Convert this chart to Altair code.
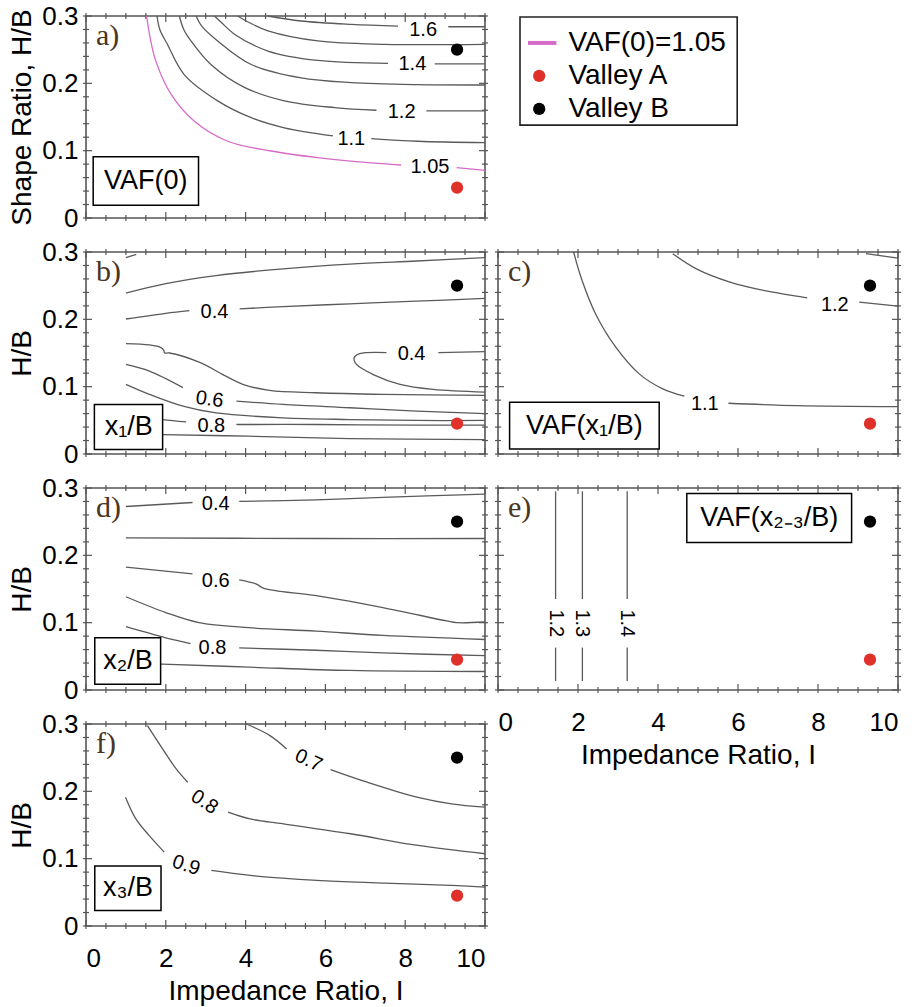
import altair as alt
import pandas as pd

FONT = "Liberation Sans"
SERIF = "Liberation Serif"
GRAY = "#5a5a5a"
PINK = "#d66cc8"
RED = "#e0302a"
FRAME = "#555555"

# ---------------- data ----------------
VALLEY_NAMES = ["Valley A", "Valley B"]
VALLEY_X = [9.3, 9.3]
VALLEY_Y = [0.045, 0.25]
VALLEY_COLORS = [RED, "#000000"]

# contour segments: (kind, x values, y values)
A_SEGS = [
    ("pink", [1.52, 1.6, 1.75, 2.13, 2.71, 3.55, 4.64, 5.81, 7.07, 7.9],
             [0.3, 0.27, 0.233, 0.184, 0.144, 0.114, 0.0995, 0.0896, 0.0822, 0.0787]),
    ("pink", [9.29, 10], [0.0748, 0.0708]),
    ("gray", [1.78, 1.85, 2.04, 2.46, 3.3, 4.14, 4.97, 6.19],
             [0.3, 0.28, 0.258, 0.213, 0.174, 0.149, 0.134, 0.122]),
    ("gray", [7.15, 8.32, 10], [0.118, 0.114, 0.112]),
    ("gray", [2.34, 2.45, 2.63, 3.13, 3.97, 4.97, 6.23, 7.28],
             [0.3, 0.28, 0.263, 0.228, 0.194, 0.174, 0.164, 0.160]),
    ("gray", [8.53, 10], [0.159, 0.159]),
    ("gray", [2.76, 2.9, 3.3, 4.14, 5.39, 6.65, 8.32, 10],
             [0.3, 0.285, 0.263, 0.228, 0.208, 0.201, 0.198, 0.1975]),
    ("gray", [3.22, 3.4, 3.72, 4.56, 5.81, 7.57],
             [0.3, 0.29, 0.273, 0.248, 0.234, 0.2297]),
    ("gray", [8.74, 10], [0.229, 0.229]),
    ("gray", [3.8, 4.1, 4.56, 5.81, 7.49, 10],
             [0.3, 0.29, 0.278, 0.263, 0.258, 0.258]),
    ("gray", [4.56, 5.39, 6.65, 7.82], [0.3, 0.2926, 0.2876, 0.285]),
    ("gray", [9.08, 10], [0.284, 0.284]),
]
A_LABELS = [("1.6", 8.45, 0.279, 0), ("1.4", 8.18, 0.229, 0), ("1.2", 7.91, 0.157, 0),
            ("1.1", 6.65, 0.118, 0), ("1.05", 8.62, 0.0755, 0)]

B_SEGS = [
    ("gray", [1.0, 1.26], [0.2915, 0.2965]),
    ("gray", [1.0, 2.0, 3.26, 4.94, 6.61, 8.28, 10],
             [0.239, 0.253, 0.265, 0.275, 0.282, 0.2866, 0.2915]),
    ("gray", [1.0, 2.0, 2.59], [0.2005, 0.209, 0.213]),
    ("gray", [3.85, 4.94, 6.61, 8.28, 10], [0.2154, 0.219, 0.223, 0.227, 0.231]),
    ("gray", [1.0, 1.59, 1.88, 1.95, 1.97, 2.09, 2.85, 3.43, 3.93, 4.6, 5.77, 7.45, 10],
             [0.164, 0.162, 0.158, 0.154, 0.150, 0.150, 0.136, 0.118, 0.1035, 0.0945, 0.091, 0.0886, 0.087]),
    ("gray", [10, 8.83], [0.152, 0.1507]),
    ("gray", [7.53, 6.86, 6.72, 6.78, 7.2, 7.87, 8.7, 10],
             [0.1507, 0.149, 0.143, 0.133, 0.118, 0.1035, 0.096, 0.092]),
    ("gray", [1.0, 1.59, 2.43], [0.133, 0.123, 0.0985]),
    ("gray", [3.77, 4.94, 6.61, 8.28, 10], [0.0786, 0.0736, 0.0687, 0.0637, 0.060]),
    ("gray", [1.0, 1.59, 2.43, 3.26, 4.94, 6.61, 8.28, 10],
             [0.1035, 0.0886, 0.071, 0.061, 0.0537, 0.0512, 0.0498, 0.0498]),
    ("gray", [1.0, 1.92, 2.51], [0.058, 0.0512, 0.0478]),
    ("gray", [3.77, 5.77, 8.28, 10], [0.0438, 0.0438, 0.0428, 0.0428]),
    ("gray", [1.0, 1.92, 4.1, 6.61, 10], [0.031, 0.0289, 0.0264, 0.0229, 0.0214]),
]
B_LABELS = [("0.4", 3.22, 0.2105, 0), ("0.4", 8.16, 0.148, 0),
            ("0.6", 3.1, 0.081, 8), ("0.8", 3.14, 0.0413, 0)]

C_SEGS = [
    ("gray", [1.89, 2.1, 2.44, 2.94, 3.53, 4.12, 4.66],
             [0.3, 0.258, 0.208, 0.159, 0.119, 0.0967, 0.0858]),
    ("gray", [5.76, 7.48, 10], [0.0754, 0.0719, 0.0704]),
    ("gray", [4.37, 4.96, 5.8, 6.64, 7.73], [0.2975, 0.275, 0.2553, 0.243, 0.232]),
    ("gray", [9.03, 10], [0.2256, 0.2196]),
    ("gray", [9.2, 10], [0.2975, 0.291]),
]
C_LABELS = [("1.1", 5.17, 0.0745, 0), ("1.2", 8.42, 0.222, 0)]

D_SEGS = [
    ("gray", [1.0, 2.67], [0.2725, 0.2785]),
    ("gray", [3.84, 5.77, 7.44, 10], [0.28, 0.2825, 0.286, 0.291]),
    ("gray", [1.0, 5.77, 10], [0.226, 0.225, 0.225]),
    ("gray", [1.0, 2.67], [0.1825, 0.1725]),
    ("gray", [3.84, 4.26, 4.46, 5.77, 7.44, 9.04, 9.29, 10],
             [0.1635, 0.1575, 0.151, 0.14, 0.1225, 0.1025, 0.1, 0.101]),
    ("gray", [1.0, 2.0, 2.83, 4.09, 5.77, 7.44, 10],
             [0.1385, 0.115, 0.1, 0.0925, 0.0875, 0.081, 0.075]),
    ("gray", [1.0, 2.0, 2.62], [0.094, 0.0775, 0.069]),
    ("gray", [3.84, 5.77, 7.44, 10], [0.0625, 0.059, 0.055, 0.051]),
    ("gray", [1.0, 1.91, 4.09, 6.6, 10], [0.04, 0.0385, 0.034, 0.029, 0.0275]),
]
D_LABELS = [("0.4", 3.25, 0.276, 0), ("0.6", 3.25, 0.1625, 0), ("0.8", 3.17, 0.0625, 0)]

E_SEGS = [
    ("gray", [1.44, 1.44], [0.295, 0.135]), ("gray", [1.44, 1.44], [0.063, 0.0134]),
    ("gray", [2.11, 2.11], [0.295, 0.135]), ("gray", [2.11, 2.11], [0.063, 0.0134]),
    ("gray", [3.23, 3.23], [0.295, 0.135]), ("gray", [3.23, 3.23], [0.063, 0.0134]),
]
E_LABELS = [("1.2", 1.44, 0.099, 90), ("1.3", 2.11, 0.099, 90), ("1.4", 3.23, 0.099, 90)]

F_SEGS = [
    ("gray", [4.02, 4.61, 5.03], [0.3, 0.2828, 0.263]),
    ("gray", [6.13, 7.05, 8.32, 9.16, 10], [0.2323, 0.2135, 0.191, 0.1814, 0.1765]),
    ("gray", [1.54, 1.92, 2.26, 2.55], [0.2976, 0.263, 0.2333, 0.2135]),
    ("gray", [3.56, 4.11, 4.95, 6.63, 8.32, 10], [0.169, 0.159, 0.1518, 0.137, 0.1196, 0.1073]),
    ("gray", [0.99, 1.25, 1.58, 1.96], [0.1913, 0.159, 0.1345, 0.1097]),
    ("gray", [3.14, 4.11, 5.79, 7.47, 9.16, 10], [0.0825, 0.0751, 0.0677, 0.0638, 0.0603, 0.0578]),
]
F_LABELS = [("0.7", 5.58, 0.2457, 25), ("0.8", 2.97, 0.184, 33), ("0.9", 2.51, 0.09, 18)]

# boxed captions: x1, x2, y1, y2, text, text x, text y
A_BOX = (0.18, 2.82, 0.019, 0.091, "VAF(0)", 1.5, 0.055)
B_BOX = (0.21, 1.92, 0.0065, 0.0736, "x\u2081/B", 1.07, 0.040)
C_BOX = (0.29, 4.03, 0.0074, 0.0768, "VAF(x\u2081/B)", 2.16, 0.042)
D_BOX = (0.22, 1.87, 0.0085, 0.0775, "x\u2082/B", 1.05, 0.043)
E_BOX = (4.72, 8.84, 0.219, 0.292, "VAF(x\u2082\u208b\u2083/B)", 6.78, 0.2555)
F_BOX = (0.22, 1.88, 0.0232, 0.089, "x\u2083/B", 1.05, 0.056)

X_TICK_VALUES = [i * 0.5 for i in range(21)]
Y_TICK_VALUES = [i * 0.02 for i in range(16)]
X_LABEL_VALUES = [0, 2, 4, 6, 8, 10]
Y_LABEL_VALUES = [0, 0.1, 0.2, 0.3]

# legend entries
LEG_TEXT = ["VAF(0)=1.05", "Valley A", "Valley B"]
LEG_TEXT_Y = [0.26, 0.211, 0.162]
LEG_BOX = (0.55, 5.98, 0.138, 0.2985)

W, H = 399, 202
XS = alt.Scale(domain=[0, 10], nice=False, zero=False)
YS = alt.Scale(domain=[0, 0.3], nice=False, zero=False)


def panel(key, segs, labels, box, letter, show_x, ytitle, width):
    xaxis = alt.Axis(values=X_LABEL_VALUES, format="d", title="Impedance Ratio, I",
                     labelPadding=19, titlePadding=6) if show_x else None
    yaxis = alt.Axis(values=Y_LABEL_VALUES, format=".1~f", title=ytitle,
                     labelPadding=8, titlePadding=5) if ytitle else None

    def X(field=None, **kw):
        if field is None:
            return alt.X(scale=XS, axis=xaxis, **kw)
        return alt.X(field, type="quantitative", scale=XS, axis=xaxis)

    def Y(field=None, **kw):
        if field is None:
            return alt.Y(scale=YS, axis=yaxis, **kw)
        return alt.Y(field, type="quantitative", scale=YS, axis=yaxis)

    # frame ticks (inside & outside, all four sides)
    xt = pd.DataFrame({"v": X_TICK_VALUES})
    xt["major"] = [abs(v / 2 - round(v / 2)) < 1e-9 for v in X_TICK_VALUES]
    yt = pd.DataFrame({"v": Y_TICK_VALUES})
    yt["major"] = [abs(v / 0.1 - round(v / 0.1)) < 1e-6 for v in Y_TICK_VALUES]
    layers = []
    for major, inn, out in [(True, 6, 3), (False, 3, 3)]:
        xd = xt[xt["major"] == major]
        yd = yt[yt["major"] == major]
        layers.append(alt.Chart(xd).mark_rule(color=FRAME, strokeWidth=1.2, yOffset=-inn, y2Offset=out)
                      .encode(x=X("v"), y=Y(datum=0), y2=alt.Y2(datum=0)))
        layers.append(alt.Chart(xd).mark_rule(color=FRAME, strokeWidth=1.2, yOffset=inn, y2Offset=-out)
                      .encode(x=X("v"), y=Y(datum=0.3), y2=alt.Y2(datum=0.3)))
        layers.append(alt.Chart(yd).mark_rule(color=FRAME, strokeWidth=1.2, xOffset=inn, x2Offset=-out)
                      .encode(y=Y("v"), x=X(datum=0), x2=alt.X2(datum=0)))
        layers.append(alt.Chart(yd).mark_rule(color=FRAME, strokeWidth=1.2, xOffset=-inn, x2Offset=out)
                      .encode(y=Y("v"), x=X(datum=10), x2=alt.X2(datum=10)))

    rows = []
    for j, (kind, xs, ys) in enumerate(segs):
        for i, (x, y) in enumerate(zip(xs, ys)):
            rows.append({"seg": f"{key}{j}", "i": i, "x": x, "y": y, "kind": kind})
    lines = pd.DataFrame(rows)
    line_layer = alt.Chart(lines).mark_line(strokeWidth=1.3, interpolate="catmull-rom").encode(
        x=X("x"), y=Y("y"), detail="seg:N", order="i:Q",
        color=alt.Color("kind:N", scale=alt.Scale(domain=["gray", "pink"], range=[GRAY, PINK]), legend=None),
    )

    lab = pd.DataFrame(labels, columns=["t", "x", "y", "a"])
    label_layer = alt.Chart(lab).mark_text(font=FONT, fontSize=20, color="black").encode(
        x=X("x"), y=Y("y"), text="t:N", angle=alt.Angle("a:Q", scale=None))

    bx = pd.DataFrame([box], columns=["x1", "x2", "y1", "y2", "t", "tx", "ty"])
    box_layer = alt.Chart(bx).mark_rect(fill="white", stroke="black", strokeWidth=1.5).encode(
        x=X("x1"), x2="x2:Q", y=Y("y1"), y2="y2:Q")
    box_text = alt.Chart(bx).mark_text(font=FONT, fontSize=27, color="black").encode(
        x=X("tx"), y=Y("ty"), text="t:N")

    let = pd.DataFrame({"t": [letter], "x": [0.25], "y": [0.27]})
    letter_layer = alt.Chart(let).mark_text(font=SERIF, fontSize=30, color="#4a3522", align="left").encode(
        x=X("x"), y=Y("y"), text="t:N")

    val = pd.DataFrame({"name": VALLEY_NAMES, "x": VALLEY_X, "y": VALLEY_Y})
    valley_layer = alt.Chart(val).mark_circle(size=150, opacity=1).encode(
        x=X("x"), y=Y("y"),
        color=alt.Color("name:N", scale=alt.Scale(domain=VALLEY_NAMES, range=VALLEY_COLORS), legend=None))

    layers += [line_layer, box_layer, box_text, letter_layer, label_layer, valley_layer]
    return alt.layer(*layers).resolve_scale(color="independent").properties(
        width=width, height=H, view=alt.ViewBackground(stroke=FRAME, strokeWidth=1.6))


def legend_cell():
    bx = pd.DataFrame({"x1": [LEG_BOX[0]], "x2": [LEG_BOX[1]], "y1": [LEG_BOX[2]], "y2": [LEG_BOX[3]]})
    box = alt.Chart(bx).mark_rect(fill="white", stroke="#222222", strokeWidth=1.6).encode(
        x=alt.X("x1:Q", scale=XS, axis=None), x2="x2:Q", y=alt.Y("y1:Q", scale=YS, axis=None), y2="y2:Q")
    ln = pd.DataFrame({"x1": [0.75], "x2": [1.46], "y": [LEG_TEXT_Y[0]]})
    line = alt.Chart(ln).mark_rule(color=PINK, strokeWidth=4).encode(
        x=alt.X("x1:Q", axis=None), x2="x2:Q", y=alt.Y("y:Q", axis=None))
    dots = pd.DataFrame({"name": VALLEY_NAMES, "x": [1.03, 1.03], "y": LEG_TEXT_Y[1:]})
    dot = alt.Chart(dots).mark_circle(size=150, opacity=1).encode(
        x=alt.X("x:Q", axis=None), y=alt.Y("y:Q", axis=None),
        color=alt.Color("name:N", scale=alt.Scale(domain=VALLEY_NAMES, range=VALLEY_COLORS), legend=None))
    tx = pd.DataFrame({"t": LEG_TEXT, "x": [1.76] * 3, "y": LEG_TEXT_Y})
    text = alt.Chart(tx).mark_text(font=FONT, fontSize=28, color="black", align="left").encode(
        x=alt.X("x:Q", axis=None), y=alt.Y("y:Q", axis=None), text="t:N")
    return alt.layer(box, line, dot, text).properties(
        width=400, height=H, view=alt.ViewBackground(strokeWidth=0, strokeOpacity=0))


pa = panel("a", A_SEGS, A_LABELS, A_BOX, "a)", False, "Shape Ratio, H/B", W)
pb = panel("b", B_SEGS, B_LABELS, B_BOX, "b)", False, "H/B", W)
pc = panel("c", C_SEGS, C_LABELS, C_BOX, "c)", False, None, 400)
pd_ = panel("d", D_SEGS, D_LABELS, D_BOX, "d)", False, "H/B", W)
pe = panel("e", E_SEGS, E_LABELS, E_BOX, "e)", True, None, 400)
pf = panel("f", F_SEGS, F_LABELS, F_BOX, "f)", True, "H/B", W)

chart = alt.concat(pa, legend_cell(), pb, pc, pd_, pe, pf, columns=2,
                   spacing={"row": 34, "column": 13}, bounds="flush").properties(
    padding={"left": 8, "top": 2, "right": 0, "bottom": 0}
).configure_axis(
    labelFont=FONT, titleFont=FONT, labelFontSize=26, titleFontSize=28, titleFontWeight="normal",
    labelColor="black", titleColor="black", grid=False, domain=False, ticks=False, tickSize=0,
).configure_view(stroke=FRAME)

chart.save("out.html", embed_options={"renderer": "svg", "actions": False})
